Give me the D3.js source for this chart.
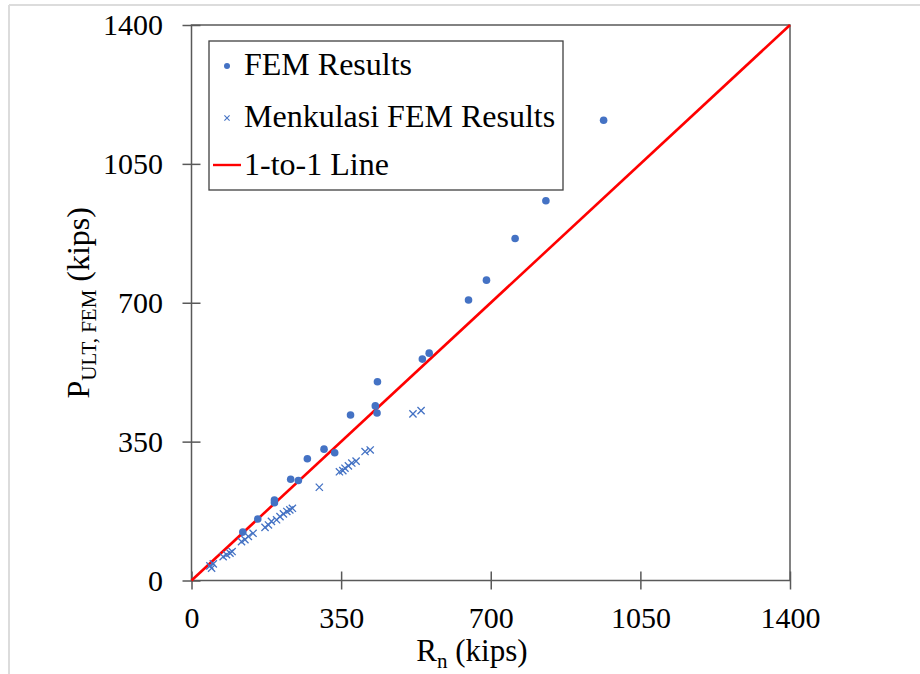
<!DOCTYPE html>
<html>
<head>
<meta charset="utf-8">
<script src="https://cdn.jsdelivr.net/npm/d3@7"></script>
<style>
  html, body { margin: 0; padding: 0; background: #fff; }
  svg { display: block; }
</style>
</head>
<body>
<svg id="chart" width="920" height="674"></svg>
<script>
// Nominal capacity R_n vs. FEM ultimate load (kips)
const femRn = [120, 155, 194, 194, 232, 250, 271, 310, 335, 372, 430, 434, 435, 540, 556, 648, 690, 757, 829, 964];
const femP  = [122, 155, 196, 203, 255, 252, 307, 331, 322, 417, 440, 422, 501, 558, 573, 707, 757, 862, 957, 1160];

const menkRn = [43, 47, 51, 74, 82, 90, 95, 117, 125, 133, 144, 172, 180, 187, 199, 207, 215, 223, 230, 236,
                299, 346, 354, 359, 367, 375, 385, 406, 418, 518, 537];
const menkP  = [37, 31, 42, 60, 65, 69, 73, 98, 103, 111, 119, 134, 140, 149, 153, 161, 168, 174, 178, 182,
                235, 274, 277, 283, 289, 296, 301, 325, 329, 420, 428];

const oneToOne = [0, 1400];
const xTicks = [0, 350, 700, 1050, 1400];
const yTicks = [0, 350, 700, 1050, 1400];
const legendLabels = ["FEM Results", "Menkulasi FEM Results", "1-to-1 Line"];

const blue = "#4472C4";
const red = "#FF0000";
const axisGray = "#595959";
const serif = "'Liberation Serif', 'Times New Roman', Times, 'DejaVu Serif', serif";

const svg = d3.select("#chart").attr("font-family", serif);

// faint outer frame
svg.append("line").attr("x1", 9).attr("x2", 9).attr("y1", 5).attr("y2", 674)
  .attr("stroke", "#dcdcdc").attr("stroke-width", 2);
svg.append("line").attr("x1", 9).attr("x2", 920).attr("y1", 5).attr("y2", 5)
  .attr("stroke", "#dcdcdc").attr("stroke-width", 2);

const x = d3.scaleLinear().domain([0, 1400]).range([191.5, 790]);
const y = d3.scaleLinear().domain([0, 1400]).range([580.5, 25]);

// plot-area border
svg.append("rect")
  .attr("x", x(0)).attr("y", y(1400))
  .attr("width", x(1400) - x(0)).attr("height", y(0) - y(1400))
  .attr("fill", "none").attr("stroke", axisGray).attr("stroke-width", 1.5);

// axes with ticks crossing the axis line
const xAxis = svg.append("g")
  .attr("transform", `translate(0,${y(0)})`)
  .call(d3.axisBottom(x).tickValues(xTicks).tickFormat(d3.format("d"))
        .tickSizeInner(9).tickSizeOuter(0).tickPadding(17));
xAxis.attr("font-family", serif).attr("font-size", 30);
xAxis.select(".domain").remove();
xAxis.selectAll(".tick line").attr("y1", -9).attr("y2", 9)
  .attr("stroke", axisGray).attr("stroke-width", 1.5);
xAxis.selectAll(".tick text").attr("fill", "#000");

const yAxis = svg.append("g")
  .attr("transform", `translate(${x(0)},0)`)
  .call(d3.axisLeft(y).tickValues(yTicks).tickFormat(d3.format("d"))
        .tickSizeInner(9).tickSizeOuter(0).tickPadding(19.5));
yAxis.attr("font-family", serif).attr("font-size", 30);
yAxis.select(".domain").remove();
yAxis.selectAll(".tick line").attr("x1", -9).attr("x2", 9)
  .attr("stroke", axisGray).attr("stroke-width", 1.5);
yAxis.selectAll(".tick text").attr("fill", "#000");

// 1-to-1 reference line
svg.append("path")
  .datum(oneToOne)
  .attr("d", d3.line().x(d => x(d)).y(d => y(d)))
  .attr("stroke", red).attr("stroke-width", 2.6).attr("fill", "none");

// FEM results (circles)
svg.append("g").selectAll("circle")
  .data(femRn.map((v, i) => [v, femP[i]]))
  .join("circle")
  .attr("cx", d => x(d[0])).attr("cy", d => y(d[1]))
  .attr("r", 3.8).attr("fill", blue);

// Menkulasi FEM results (crosses)
const crossPath = (cx, cy, s) =>
  `M${cx - s},${cy - s}L${cx + s},${cy + s}M${cx - s},${cy + s}L${cx + s},${cy - s}`;
svg.append("g").selectAll("path")
  .data(menkRn.map((v, i) => [v, menkP[i]]))
  .join("path")
  .attr("d", d => crossPath(x(d[0]), y(d[1]), 3.6))
  .attr("stroke", blue).attr("stroke-width", 1.3).attr("fill", "none");

// legend
const lg = svg.append("g");
lg.append("rect").attr("x", 209).attr("y", 41).attr("width", 354).attr("height", 149)
  .attr("fill", "#fff").attr("stroke", "#404040").attr("stroke-width", 1.3);
const rows = [75, 127, 175];
lg.append("circle").attr("cx", 227).attr("cy", rows[0] - 9).attr("r", 3).attr("fill", blue);
lg.append("path").attr("d", crossPath(227, rows[1] - 9, 2.6))
  .attr("stroke", blue).attr("stroke-width", 1.1).attr("fill", "none");
lg.append("line").attr("x1", 213).attr("x2", 241).attr("y1", rows[2] - 10).attr("y2", rows[2] - 10)
  .attr("stroke", red).attr("stroke-width", 2.4);
lg.selectAll("text.lbl").data(legendLabels).join("text")
  .attr("class", "lbl")
  .attr("x", 244).attr("y", (d, i) => rows[i])
  .attr("font-size", 32).attr("fill", "#000")
  .text(d => d);

// x-axis title: R_n (kips)
const xt = svg.append("text").attr("x", 472).attr("y", 661)
  .attr("text-anchor", "middle").attr("font-size", 31).attr("fill", "#000");
xt.append("tspan").text("R");
xt.append("tspan").attr("dy", 7).attr("font-size", 21).text("n");
xt.append("tspan").attr("dy", -7).text(" (kips)");

// y-axis title: P_ULT, FEM (kips)
const yt = svg.append("text")
  .attr("transform", `translate(89,${(y(0) + y(1400)) / 2}) rotate(-90)`)
  .attr("text-anchor", "middle").attr("font-size", 32).attr("fill", "#000");
yt.append("tspan").text("P");
yt.append("tspan").attr("dy", 7).attr("font-size", 21).text("ULT, FEM");
yt.append("tspan").attr("dy", -7).text(" (kips)");
</script>
</body>
</html>
